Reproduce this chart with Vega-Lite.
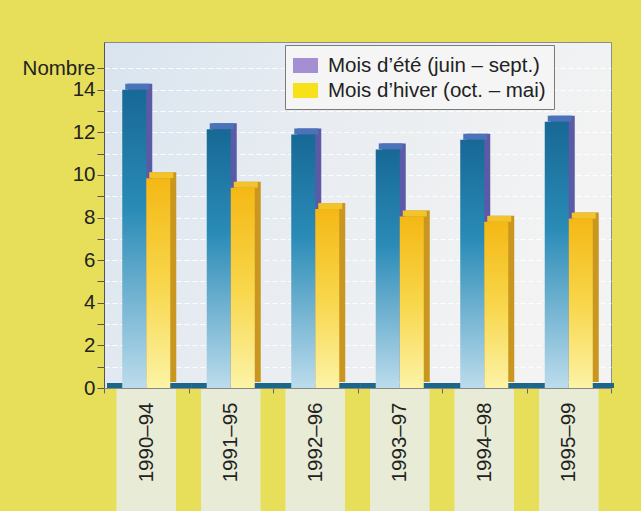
{
  "$schema": "https://vega.github.io/schema/vega-lite/v6.json",
  "width": 507,
  "height": 346,
  "autosize": {"type": "none"},
  "padding": {"left": 104, "top": 42, "right": 30, "bottom": 123},
  "background": "#e7df5a",
  "config": {
    "font": "Liberation Sans",
    "view": {
      "stroke": "#8c8c8c",
      "strokeWidth": 1,
      "fill": {"gradient": "linear", "x1": 0, "y1": 0, "x2": 1, "y2": 0.3,
        "stops": [{"offset": 0, "color": "#d9e4ef"}, {"offset": 0.5, "color": "#e9edf1"}, {"offset": 1, "color": "#f3f3f3"}]}
    }
  },
  "data": {
    "values": [
      {"periode": "1990–94", "saison": "Mois d’été (juin – sept.)", "nombre": 14.0},
      {"periode": "1990–94", "saison": "Mois d’hiver (oct. – mai)", "nombre": 9.85},
      {"periode": "1991–95", "saison": "Mois d’été (juin – sept.)", "nombre": 12.15},
      {"periode": "1991–95", "saison": "Mois d’hiver (oct. – mai)", "nombre": 9.4},
      {"periode": "1992–96", "saison": "Mois d’été (juin – sept.)", "nombre": 11.9},
      {"periode": "1992–96", "saison": "Mois d’hiver (oct. – mai)", "nombre": 8.4},
      {"periode": "1993–97", "saison": "Mois d’été (juin – sept.)", "nombre": 11.2},
      {"periode": "1993–97", "saison": "Mois d’hiver (oct. – mai)", "nombre": 8.05},
      {"periode": "1994–98", "saison": "Mois d’été (juin – sept.)", "nombre": 11.65},
      {"periode": "1994–98", "saison": "Mois d’hiver (oct. – mai)", "nombre": 7.8},
      {"periode": "1995–99", "saison": "Mois d’été (juin – sept.)", "nombre": 12.5},
      {"periode": "1995–99", "saison": "Mois d’hiver (oct. – mai)", "nombre": 7.95}
    ]
  },
  "encoding": {
    "x": {
      "field": "periode", "type": "nominal", "sort": null,
      "scale": {"paddingInner": 0, "paddingOuter": 0},
      "axis": {
        "title": null, "labelAngle": 270, "labelFontSize": 20.5, "labelColor": "#222",
        "labelPadding": 9, "tickBand": "extent", "tickSize": 5, "tickColor": "#666",
        "domainColor": "#888", "zindex": 1
      }
    },
    "y": {
      "field": "nombre", "type": "quantitative",
      "scale": {"domain": [0, 16.24], "nice": false},
      "axis": {
        "title": null, "values": [0,1,2,3,4,5,6,7,8,9,10,11,12,13,14,15],
        "labelExpr": "datum.value == 15 ? 'Nombre' : (datum.value % 2 == 0 ? datum.label : '')",
        "labelFontSize": 20.5, "labelColor": "#222", "labelPadding": 2,
        "tickSize": 7, "tickColor": "#555", "domainColor": "#555",
        "grid": true, "gridColor": "#ffffff", "gridDash": [5, 3], "gridOpacity": 0.9
      }
    }
  },
  "layer": [
    {
      "mark": {"type": "bar", "color": "#e8ebd5", "width": {"band": 0.7}},
      "encoding": {"y": {"datum": 0}, "y2": {"datum": -6}}
    },
    {
      "mark": {"type": "bar", "color": "#1c6688", "width": {"band": 1}, "xOffset": 3},
      "encoding": {"y": {"datum": 0}, "y2": {"datum": 0.24}}
    },
    {
      "transform": [{"filter": "datum.saison == 'Mois d’été (juin – sept.)'"}],
      "mark": {"type": "bar", "fill": "#5a5aa6", "width": {"band": 0.284}, "xOffset": -6, "yOffset": -6, "y2Offset": -6}
    },
    {
      "transform": [{"filter": "datum.saison == 'Mois d’été (juin – sept.)'"}],
      "mark": {"type": "bar", "fill": "#4a74b9", "width": {"band": 0.284}, "xOffset": -9, "yOffset": -6},
      "encoding": {"y2": {"field": "nombre"}}
    },
    {
      "transform": [{"filter": "datum.saison == 'Mois d’hiver (oct. – mai)'"}],
      "mark": {"type": "bar", "fill": "#c9961f", "width": {"band": 0.284}, "xOffset": 18, "yOffset": -6, "y2Offset": -6}
    },
    {
      "transform": [{"filter": "datum.saison == 'Mois d’hiver (oct. – mai)'"}],
      "mark": {"type": "bar", "fill": "#f2c32c", "width": {"band": 0.284}, "xOffset": 15, "yOffset": -6},
      "encoding": {"y2": {"field": "nombre"}}
    },
    {
      "transform": [{"filter": "datum.saison == 'Mois d’été (juin – sept.)'"}],
      "mark": {"type": "bar", "fill": {"gradient": "linear", "x1": 0, "y1": 0, "x2": 0, "y2": 1,
        "stops": [{"offset": 0, "color": "#176895"}, {"offset": 0.4, "color": "#2a8bb7"}, {"offset": 1, "color": "#bcdcec"}]}},
      "encoding": {
        "xOffset": {"field": "saison", "type": "nominal", "sort": null,
          "scale": {"domain": ["Mois d’été (juin – sept.)", "Mois d’hiver (oct. – mai)"], "paddingInner": 0, "paddingOuter": 0.76}}
      }
    },
    {
      "transform": [{"filter": "datum.saison == 'Mois d’hiver (oct. – mai)'"}],
      "mark": {"type": "bar", "fill": {"gradient": "linear", "x1": 0, "y1": 0, "x2": 0, "y2": 1,
        "stops": [{"offset": 0, "color": "#f4b815"}, {"offset": 0.5, "color": "#f8d64a"}, {"offset": 1, "color": "#fcf3a6"}]}},
      "encoding": {
        "xOffset": {"field": "saison", "type": "nominal", "sort": null,
          "scale": {"domain": ["Mois d’été (juin – sept.)", "Mois d’hiver (oct. – mai)"], "paddingInner": 0, "paddingOuter": 0.76}}
      }
    },
    {
      "mark": {"type": "square", "size": 0},
      "encoding": {
        "color": {
          "field": "saison", "type": "nominal", "sort": null,
          "scale": {"domain": ["Mois d’été (juin – sept.)", "Mois d’hiver (oct. – mai)"], "range": ["#a38fd2", "#f7e11b"]},
          "legend": {
            "title": null, "orient": "none", "legendX": 181, "legendY": 3,
            "fillColor": "#f5f5f5", "strokeColor": "#7a7a7a", "padding": 8,
            "labelFontSize": 20.5, "labelColor": "#222", "labelOffset": 10, "rowPadding": 2, "labelLimit": 400,
            "symbolType": "M-1,-0.6H1V0.6H-1Z", "symbolSize": 625, "symbolStrokeWidth": 0, "symbolOpacity": 1
          }
        }
      }
    }
  ]
}
